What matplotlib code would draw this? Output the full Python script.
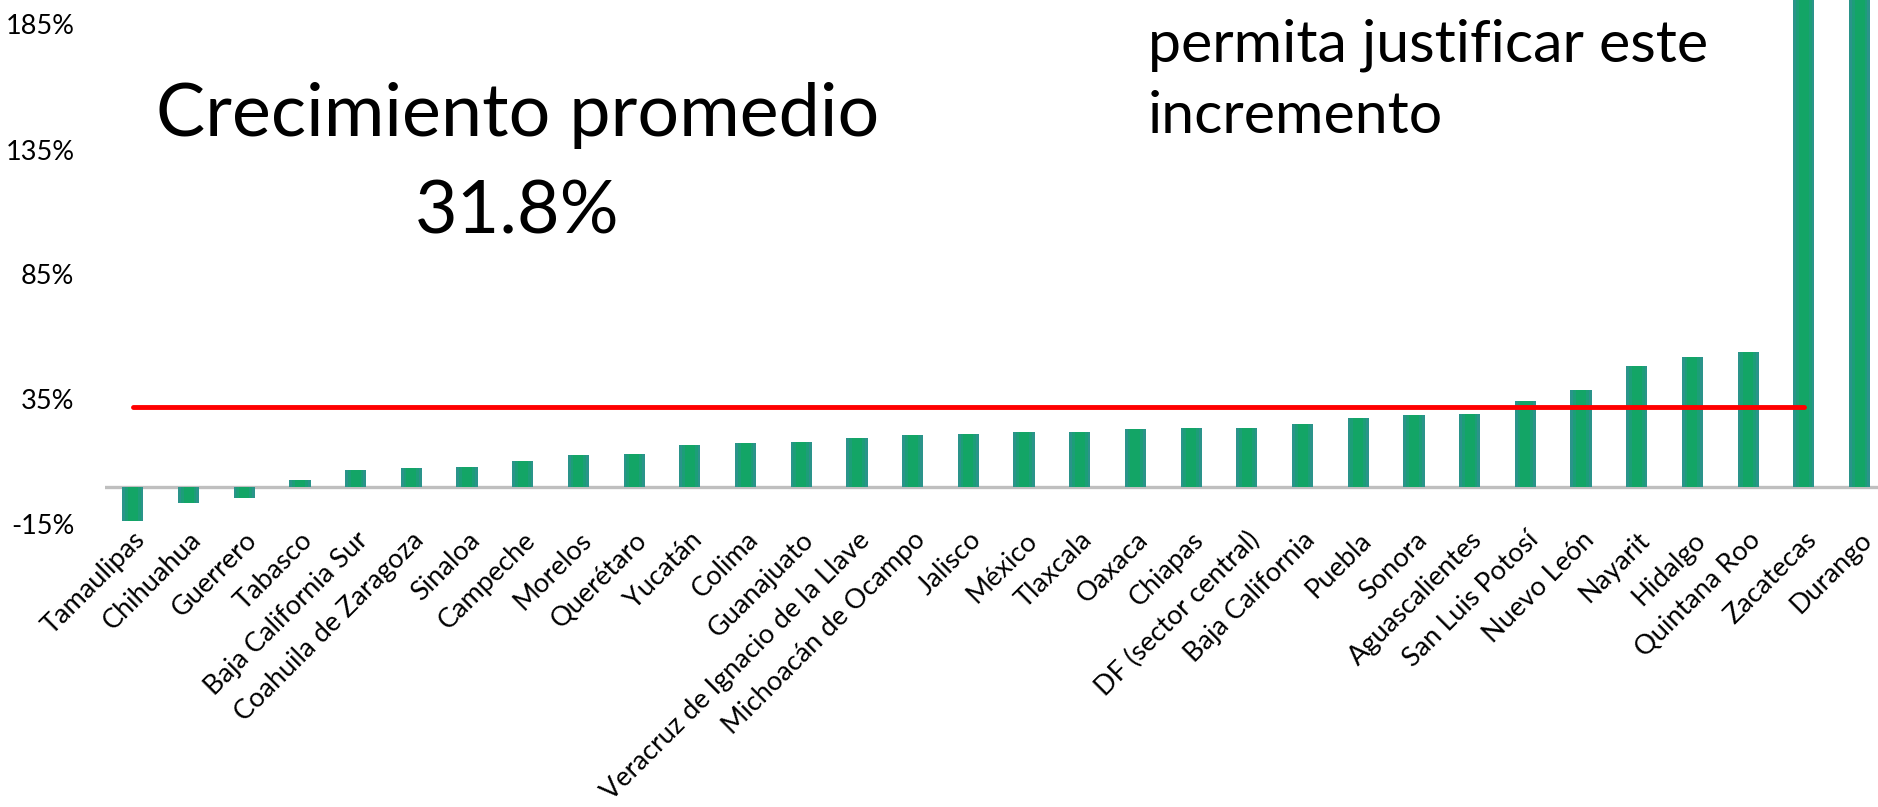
import matplotlib
matplotlib.use("Agg")
import matplotlib.pyplot as plt
import numpy as np

plt.rcParams['font.family'] = ['Lato', 'DejaVu Sans']

# crecimiento por estado (%)
estados = [
    "Tamaulipas", "Chihuahua", "Guerrero", "Tabasco", "Baja California Sur",
    "Coahuila de Zaragoza", "Sinaloa", "Campeche", "Morelos", "Querétaro",
    "Yucatán", "Colima", "Guanajuato", "Veracruz de Ignacio de la Llave",
    "Michoacán de Ocampo", "Jalisco", "México", "Tlaxcala", "Oaxaca", "Chiapas",
    "DF (sector central)", "Baja California", "Puebla", "Sonora",
    "Aguascalientes", "San Luis Potosí", "Nuevo León", "Nayarit", "Hidalgo",
    "Quintana Roo", "Zacatecas", "Durango",
]
crecimiento = [
    -13.8, -6.6, -4.5, 2.6, 6.6, 7.6, 7.9, 10.2, 12.6, 13.1,
    16.6, 17.4, 17.8, 19.5, 20.8, 21.3, 21.9, 22.1, 23.3, 23.5,
    23.5, 25.3, 27.5, 28.6, 29.1, 34.2, 38.6, 48.3, 52.0, 54.1,
    198.0, 214.0,
]
promedio = 31.8
yticks = [-15, 35, 85, 135, 185]

W, H = 1878, 807
fig = plt.figure(figsize=(W / 100, H / 100), dpi=100)
ax = fig.add_axes([105 / W, 1 - 524.5 / H, 1 - 105 / W, 524.5 / H])

x = np.arange(len(estados))
# bars with a slight teal edge / green centre look
ax.bar(x, crecimiento, width=0.38, color="#2A948A", zorder=2)
ax.bar(x, crecimiento, width=0.28, color="#1C9E78", zorder=2)
ax.bar(x, crecimiento, width=0.18, color="#13A566", zorder=2)

ax.axhline(0, color="#BFBFBF", lw=2.4, zorder=1)
ax.plot([0, 30], [promedio, promedio], color="#FF0000", lw=3.5,
        solid_capstyle="round", zorder=3)

ax.set_xlim(-0.5, -0.5 + (W - 105) / 55.7)
ax.set_ylim(-15, 487 / 2.5)
ax.set_yticks(yticks)
ax.set_yticklabels([f"{t}%" for t in yticks], fontsize=19.5)
ax.set_xticks(x)
ax.set_xticklabels(estados, rotation=45, ha="right", rotation_mode="anchor",
                   fontsize=19.5)
ax.tick_params(axis="y", length=0, pad=22)
ax.tick_params(axis="x", length=0, pad=2)
for s in ax.spines.values():
    s.set_visible(False)

fig.text(518 / W, 1 - 136 / H, "Crecimiento promedio", ha="center",
         va="baseline", fontsize=53)
fig.text(517 / W, 1 - 233 / H, f"{promedio}%", ha="center",
         va="baseline", fontsize=53)
fig.text(1148 / W, 1 - 62 / H, "permita justificar este", ha="left",
         va="baseline", fontsize=42.5)
fig.text(1148 / W, 1 - 133 / H, "incremento", ha="left",
         va="baseline", fontsize=42.5)

fig.savefig("out.png", dpi=100)
